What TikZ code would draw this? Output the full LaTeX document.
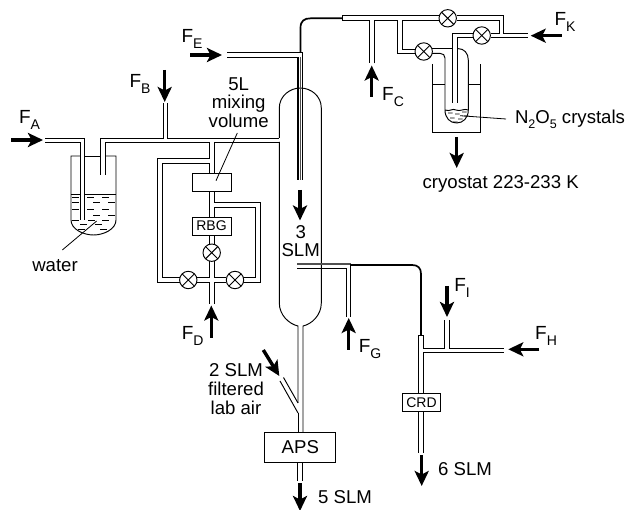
\documentclass[tikz,border=0pt]{standalone}
\usepackage{fontspec}
\setmainfont{Liberation Sans}
\usetikzlibrary{arrows.meta}
\definecolor{wallgray}{RGB}{80,80,80}
\newcommand{\flowname}[1]{{\fontsize{19}{19}\selectfont F}\raisebox{-0.34em}{\fontsize{14}{14}\selectfont #1}}
\newcommand{\lowidx}[1]{\raisebox{-0.28em}{\fontsize{12.5}{12.5}\selectfont #1}}
\tikzset{
  tube/.style={line width=0.95pt},
  darktube/.style={line width=1.7pt},
  flowarrow/.style={line width=3.4pt, -{Stealth[length=15pt,width=14pt,inset=3.5pt]}},
  flowlabel/.style={font=\fontsize{18.6}{18.8}\selectfont, inner sep=0pt},
  unitbox/.style={draw, line width=0.95pt, fill=white, inner sep=0pt, font=\fontsize{14}{15}\selectfont},
  valve/.style={draw, circle, fill=white, line width=0.95pt, minimum size=17.4pt, inner sep=0pt,
    path picture={\draw[line width=0.95pt] (path picture bounding box.north west) -- (path picture bounding box.south east)
      (path picture bounding box.north east) -- (path picture bounding box.south west);}}
}
\begin{document}
\begin{tikzpicture}[x=1pt,y=-1pt]
\useasboundingbox (0,0) rectangle (627,510);
% Water bubbler
\draw[tube] (80,156) -- (71,156) -- (71,220) .. controls (71,229) and (83,235) .. (93.5,235)
  .. controls (104,235) and (116,229) .. (116,220) -- (116,156) -- (105,156);
\draw[tube] (84.5,156) -- (100,156);
\draw[tube] (71,194) -- (80,194);
\draw[tube] (84.5,194) -- (116,194);
\foreach \wx/\wy in {72/197, 87/197, 102/197, 72/202, 93/202, 108/202, 72/209, 87/209, 102/209,
  93/215, 108/215, 72/220, 88/220, 102/220, 80/224, 95/224, 78/229, 100/229} {
  \draw[line width=0.7pt] (\wx,\wy) -- (\wx+6.5,\wy);
}
% Inlet of the bubbler and main line to the reactor
\draw[tube] (45,138) -- (84.5,138) -- (84.5,220);
\draw[tube] (45,142) -- (80,142) -- (80,220);
\draw[tube] (100,175) -- (100,138) -- (163,138) -- (163,103);
\draw[tube] (167,103) -- (167,138) -- (279.3,138);
\draw[tube] (105,175) -- (105,142) -- (209,142) -- (209,158) -- (157,158) -- (157,282) -- (180,282);
\draw[tube] (214,142) -- (279.3,142);
% Mixing loop
\draw[tube] (214,142) -- (214,173);
\draw[tube] (209,173) -- (209,163) -- (162,163) -- (162,277) -- (180,277);
\draw[tube] (209,191) -- (209,217);
\draw[tube] (214,191) -- (214,202) -- (260,202) -- (260,282) -- (243,282);
\draw[tube] (214,217) -- (214,207) -- (255,207) -- (255,277) -- (243,277);
\draw[tube] (209,235) -- (209,244);
\draw[tube] (214,235) -- (214,244);
\draw[tube] (209,261) -- (209,277) -- (197,277);
\draw[tube] (214,261) -- (214,277) -- (226,277);
\draw[tube] (197,282) -- (209,282) -- (209,304);
\draw[tube] (226,282) -- (214,282) -- (214,304);
\node[unitbox, minimum width=39pt, minimum height=18pt] (mixbox) at (211.5,182) {};
\node[unitbox, minimum width=39pt, minimum height=18pt] (rbg) at (211.5,226) {RBG};
\node[valve] (valvetop) at (211.7,252.7) {};
\node[valve] (valveleft) at (188.3,280) {};
\node[valve] (valveright) at (235,280) {};
% Reactor body
\draw[tube] (279.3,138) -- (279.3,108) .. controls (279.3,96) and (290,88) .. (300.3,88)
  .. controls (311,88) and (321.3,96) .. (321.3,108) -- (321.3,303)
  .. controls (321.3,315) and (312,324) .. (303,326) -- (303,432);
\draw[tube] (279.3,142) -- (279.3,303) .. controls (279.3,315) and (289,324) .. (298,326) -- (298,403);
\draw[tube] (298,413) -- (298,432);
\draw[tube] (298,403) -- (283.5,377.5);
\draw[tube] (298,413) -- (280,381);
% Injector from the top
\draw[tube] (227,52.3) -- (302.5,52.3);
\draw[tube] (227,57.3) -- (298,57.3);
\draw[line width=1.5pt, wallgray] (300.3,57) -- (300.3,180);
\draw[line width=1.1pt] (298,57.3) -- (298,180);
\draw[line width=1.1pt] (302.5,52.3) -- (302.5,180);
\draw[darktube] (300.5,52) -- (300.5,28) .. controls (300.5,21) and (304,18.3) .. (311,18.3) -- (342,18.3);
% N2O5 source lines
\draw[tube] (342,15.7) -- (439,15.7);
\draw[tube] (342,15.7) -- (342,20.7);
\draw[tube] (342,20.7) -- (369,20.7) -- (369,63.5);
\draw[tube] (374,63.5) -- (374,20.7) -- (397.3,20.7) -- (397.3,53.4) -- (415,53.4);
\draw[tube] (402.3,49) -- (402.3,20.7) -- (439,20.7);
\draw[tube] (402.3,49) -- (415,49);
\draw[tube] (456.7,15.7) -- (503.3,15.7) -- (503.3,33.3) -- (528.3,33.3);
\draw[tube] (456.7,20.7) -- (499,20.7) -- (499,33.3) -- (490.7,33.3);
\draw[tube] (490.7,37.7) -- (528.3,37.7);
\draw[tube] (473,33.3) -- (452.3,33.3) -- (452.3,103.3);
\draw[tube] (473,37.7) -- (457.3,37.7) -- (457.3,103.3);
% Trap in the cryostat
\draw[tube] (432,48.6) -- (452.3,48.6);
\draw[tube] (457.3,48.6) -- (458,48.6) .. controls (464,48.6) and (468.3,53) .. (468.3,60) -- (468.3,110)
  .. controls (468.3,118) and (463,123) .. (456.7,123) .. controls (450,123) and (445,118) .. (445,110)
  -- (445,58) .. controls (445,55) and (443,53.4) .. (440,53.4) -- (432,53.4);
\draw[tube] (445,110) .. controls (450,112) and (452,108) .. (456,110) .. controls (460,112) and (464,108) .. (468.3,110);
\foreach \cx/\cy in {448/113, 455/114, 462/112, 450/118, 458/119, 464/116, 453/122} {
  \draw[line width=0.7pt] (\cx,\cy) .. controls (\cx+1.5,\cy-1.2) and (\cx+2.5,\cy+1.2) .. (\cx+4.5,\cy);
}
\draw[tube] (432.7,64) -- (432.7,132.7) -- (480.3,132.7) -- (480.3,64);
\draw[tube] (432.7,84.3) -- (445,84.3);
\draw[tube] (468.3,84.3) -- (480.3,84.3);
\node[valve] (valveone) at (447.7,18.3) {};
\node[valve] (valvetwo) at (423.7,51.5) {};
\node[valve] (valvethree) at (481.7,35.5) {};
% Outlet of the reactor towards the CRD
\draw[line width=1.8pt, wallgray] (297.3,264) -- (351,264);
\draw[tube] (297.3,268.3) -- (346.7,268.3) -- (346.7,316.7);
\draw[tube] (350.9,264) -- (350.9,316.7);
\draw[darktube] (351,265) -- (412,265) .. controls (418,265) and (421,268) .. (421,274) -- (421,335);
% CRD cell
\draw[tube] (418.3,394) -- (418.3,335) -- (423.3,335) -- (423.3,348.3) -- (444.3,348.3) -- (444.3,320);
\draw[tube] (449,320) -- (449,348.3) -- (504.3,348.3);
\draw[tube] (423.3,394) -- (423.3,352.7) -- (504.3,352.7);
\draw[tube] (418.3,412) -- (418.3,453.3);
\draw[tube] (423.3,412) -- (423.3,453.3);
\node[unitbox, minimum width=38.4pt, minimum height=17.7pt] (crd) at (421.5,402.8) {CRD};
% APS
\draw[tube] (297.7,462) -- (297.7,480.7);
\draw[tube] (302.7,462) -- (302.7,480.7);
\node[unitbox, minimum width=70.7pt, minimum height=30.4pt, font=\fontsize{18.6}{19}\selectfont] (aps) at (300.3,447.5) {APS};
% Leader lines
\draw[line width=0.8pt] (237.3,133) -- (216,180.7);
\draw[line width=0.8pt] (62.3,250) -- (96.7,221);
\draw[line width=0.8pt] (506,119) -- (460,115.7);
% Flow arrows
\foreach \ax/\ay/\bx/\by in {11/140/43/140, 164.7/70/164.7/102, 211.3/338/211.3/305.5, 190/55/222/55,
  300/190/300/220.5, 371.7/97/371.7/65.5, 561.7/35.7/530.7/35.7, 456.7/137/456.7/168,
  348.7/350/348.7/318, 447/286/447/317, 539.3/349.3/508.3/349.3, 421.7/455/421.7/486,
  263.3/350/279.3/376, 300/483.3/300/511} {
  \draw[flowarrow] (\ax,\ay) -- (\bx,\by);
}
% Labels
\node[flowlabel] (labelFA) at (29.5,120) {\flowname{A}};
\node[flowlabel] (labelFB) at (140,84) {\flowname{B}};
\node[flowlabel] (labelFC) at (393,97) {\flowname{C}};
\node[flowlabel] (labelFD) at (192.7,336) {\flowname{D}};
\node[flowlabel] (labelFE) at (192,39) {\flowname{E}};
\node[flowlabel] (labelFG) at (370,349) {\flowname{G}};
\node[flowlabel] (labelFH) at (546,336) {\flowname{H}};
\node[flowlabel] (labelFI) at (462,288) {\flowname{I}};
\node[flowlabel] (labelFK) at (565,22) {\flowname{K}};
\node[flowlabel, align=center] (mixlabel) at (238.7,102.5) {5L\\mixing\\volume};
\node[flowlabel] (waterlabel) at (55,266) {water};
\node[flowlabel, align=center] (slmthree) at (300.7,241) {3\\SLM};
\node[flowlabel] (crystals) at (570,119) {N\lowidx{2}O\lowidx{5} crystals};
\node[flowlabel] (cryolabel) at (500.7,184) {cryostat 223-233 K};
\node[flowlabel, align=center] (airlabel) at (236,389) {2 SLM\\filtered\\lab air};
\node[flowlabel] (slmsix) at (465,469) {6 SLM};
\node[flowlabel] (slmfive) at (345,497) {5 SLM};
\end{tikzpicture}
\end{document}
